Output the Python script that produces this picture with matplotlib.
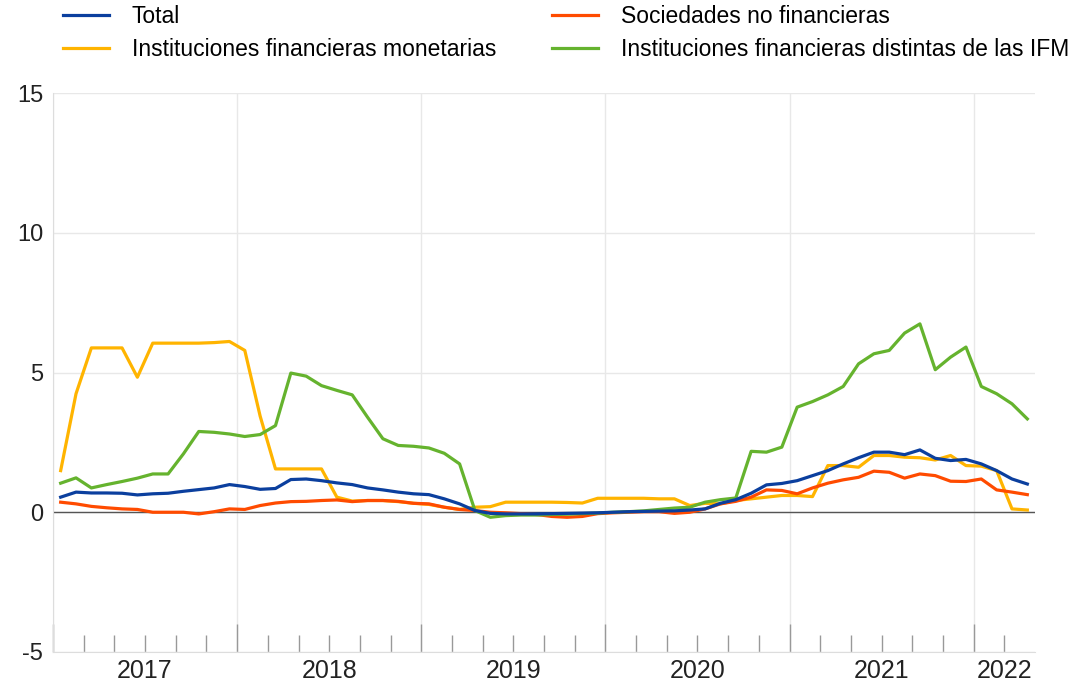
import matplotlib
matplotlib.use("Agg")
from matplotlib import pyplot as plt
from matplotlib import transforms
import numpy as np

plt.rcParams['font.family'] = ['Liberation Sans', 'DejaVu Sans']

# meses desde ene-2017 hasta abr-2022 (64 datos mensuales)
meses = np.arange(64) + 0.5
anios = ['2017', '2018', '2019', '2020', '2021', '2022']
centros_anio = [6, 18, 30, 42, 54, 62]

total = [0.54, 0.72, 0.69, 0.69, 0.68, 0.62, 0.66, 0.68, 0.75, 0.81,
         0.87, 0.99, 0.92, 0.82, 0.85, 1.17, 1.19, 1.13, 1.05, 0.99,
         0.87, 0.80, 0.72, 0.66, 0.63, 0.48, 0.30, 0.06, -0.04, -0.06,
         -0.06, -0.06, -0.05, -0.04, -0.03, -0.02, 0.00, 0.02, 0.03, 0.04,
         0.05, 0.08, 0.12, 0.32, 0.45, 0.68, 0.98, 1.03, 1.13, 1.31,
         1.49, 1.73, 1.95, 2.15, 2.15, 2.06, 2.23, 1.93, 1.85, 1.89,
         1.73, 1.49, 1.19, 1.01]

snf = [0.36, 0.30, 0.21, 0.16, 0.12, 0.10, 0.00, 0.00, 0.00, -0.06,
       0.02, 0.12, 0.10, 0.24, 0.33, 0.38, 0.39, 0.42, 0.44, 0.38,
       0.42, 0.42, 0.39, 0.32, 0.30, 0.18, 0.10, 0.06, 0.00, -0.02,
       -0.05, -0.08, -0.15, -0.18, -0.15, -0.05, -0.02, 0.00, 0.02, 0.02,
       -0.04, 0.00, 0.12, 0.30, 0.39, 0.54, 0.80, 0.78, 0.66, 0.87,
       1.04, 1.16, 1.25, 1.47, 1.43, 1.22, 1.37, 1.31, 1.11, 1.10,
       1.19, 0.80, 0.72, 0.63]

ifm = [1.49, 4.24, 5.88, 5.88, 5.88, 4.83, 6.05, 6.05, 6.05, 6.05,
       6.07, 6.11, 5.79, 3.44, 1.55, 1.55, 1.55, 1.55, 0.54, 0.40,
       0.42, 0.42, 0.38, 0.32, 0.28, 0.18, 0.10, 0.18, 0.20, 0.36,
       0.36, 0.36, 0.36, 0.35, 0.33, 0.50, 0.50, 0.50, 0.50, 0.48,
       0.48, 0.24, 0.32, 0.30, 0.42, 0.48, 0.54, 0.60, 0.60, 0.56,
       1.67, 1.67, 1.61, 2.03, 2.03, 1.97, 1.95, 1.87, 2.03, 1.67,
       1.65, 1.49, 0.12, 0.08]

ifnm = [1.04, 1.23, 0.87, 0.99, 1.10, 1.22, 1.37, 1.37, 2.09, 2.89,
        2.86, 2.80, 2.71, 2.78, 3.10, 4.98, 4.87, 4.53, 4.36, 4.20,
        3.40, 2.63, 2.39, 2.36, 2.30, 2.11, 1.73, 0.06, -0.18, -0.12,
        -0.10, -0.10, -0.08, -0.07, -0.05, -0.03, 0.00, 0.02, 0.05, 0.10,
        0.15, 0.18, 0.36, 0.45, 0.51, 2.18, 2.15, 2.33, 3.76, 3.96,
        4.20, 4.50, 5.31, 5.67, 5.79, 6.41, 6.74, 5.10, 5.55, 5.91,
        4.50, 4.24, 3.88, 3.34]

fig = plt.figure(figsize=(10.86, 6.85), dpi=100)
ax = fig.add_axes([53/1086, 1-652/685, (1035-53)/1086, (652-93)/685])

l1, = ax.plot(meses, total, color='#0B3F9E', lw=2.3, zorder=5)
l2, = ax.plot(meses, snf, color='#FF4B00', lw=2.3, zorder=4)
l3, = ax.plot(meses, ifm, color='#FFB400', lw=2.3, zorder=3)
l4, = ax.plot(meses, ifnm, color='#65B32E', lw=2.3, zorder=4)

ax.axhline(0, color='#555555', lw=1.0, zorder=2)

ax.set_xlim(0, 64)
ax.set_ylim(-5, 15)
ax.set_yticks([-5, 0, 5, 10, 15])
ax.set_yticklabels(['-5', '0', '5', '10', '15'])

ax.set_xticks([0, 12, 24, 36, 48, 60])
ax.set_xticks(np.arange(2, 64, 2), minor=True)
ax.set_xticklabels([])
ax.tick_params(axis='x', which='major', direction='in', length=20, width=1, color='#999999')
ax.tick_params(axis='x', which='minor', direction='in', length=12, width=1, color='#999999')
ax.tick_params(axis='y', length=0, labelsize=17, pad=7, colors='#222222')

ax.grid(True, axis='both', which='major', color='#e8e8e8', lw=1)
ax.set_axisbelow(True)

for s in ['top', 'right']:
    ax.spines[s].set_visible(False)
ax.spines['left'].set_color('#dddddd')
ax.spines['bottom'].set_color('#dddddd')

trans = transforms.blended_transform_factory(ax.transData, ax.transAxes)
for c, a in zip(centros_anio, anios):
    ax.text(c, -0.012, a, transform=trans, ha='center', va='top', fontsize=18, color='#222222')

fig.legend([l1, l3, l2, l4],
           ['Total', 'Instituciones financieras monetarias',
            'Sociedades no financieras', 'Instituciones financieras distintas de las IFM'],
           ncol=2, loc='upper left', bbox_to_anchor=(63/1086, 1-5/685), frameon=False,
           fontsize=16.5, handlelength=2.0, handletextpad=1.0, columnspacing=2.45,
           labelspacing=0.45, borderpad=0, borderaxespad=0)

fig.savefig('out.png', dpi=100)
